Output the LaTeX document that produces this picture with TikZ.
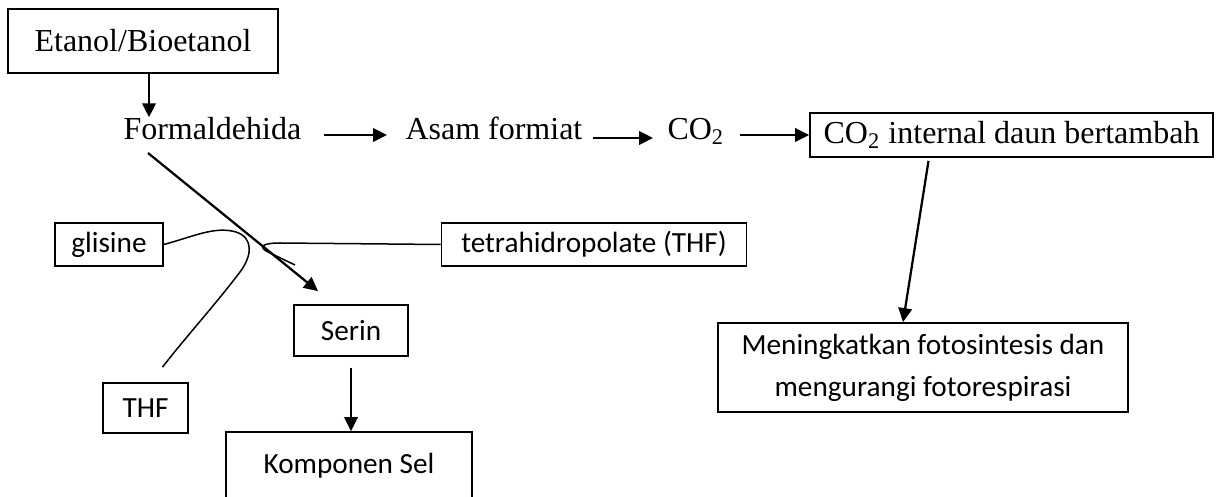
\documentclass[tikz,border=0pt]{standalone}
\usepackage{fontspec}
\setmainfont{Liberation Serif}
\setsansfont{Carlito}
\usetikzlibrary{arrows.meta}

\tikzset{
  serif/.style={font=\fontsize{12.8}{15}\selectfont},
  sans/.style={font=\sffamily\fontsize{11.7}{16.8}\selectfont},
  kotak/.style={draw, line width=0.7pt, inner sep=0pt},
  teks/.style={inner sep=0pt, anchor=base west},
  panah/.style={-{Triangle[length=5.6pt,width=5.4pt]}, line width=0.9pt},
}

\begin{document}
\begin{tikzpicture}[x=0.4pt, y=-0.4pt]
\useasboundingbox (0,0) rectangle (1217,497);

% jalur atas
\node[kotak, serif, minimum width=108pt, minimum height=25.6pt] (etanol) at (143,41) {Etanol/Bioetanol};
\node[teks, serif] (formal) at (123,140) {Formaldehida};
\node[teks, serif] (asam) at (405,140) {Asam formiat};
\node[teks, serif] (co2) at (667,140) {CO\textsubscript{2}};
\node[kotak, serif, minimum width=161.2pt, minimum height=17.6pt] (internal) at (1011.5,135) {CO\textsubscript{2} internal daun bertambah};
\node[kotak, sans, minimum width=164pt, minimum height=35.6pt, align=center] (mening) at (923,367.5) {Meningkatkan fotosintesis dan\\mengurangi fotorespirasi};

% jalur serin
\node[kotak, sans, minimum width=43.2pt, minimum height=17.2pt] (glisine) at (109,244.5) {glisine};
\node[kotak, sans, minimum width=122pt, minimum height=17.2pt] (tetra) at (594,244.5) {tetrahidropolate (THF)};
\node[kotak, sans, minimum width=34pt, minimum height=20pt] (thf) at (145.5,408) {THF};
\node[kotak, sans, minimum width=45.6pt, minimum height=20.4pt] (serin) at (351,330.5) {Serin};
\node[kotak, sans, minimum width=98.4pt, minimum height=27.2pt] (komponen) at (349,466) {Komponen Sel};

\draw[panah] ([xshift=2.4pt]etanol.south) -- ([xshift=2.4pt]etanol.south |- formal.north);
\draw[panah] ([shift={(22,-5)}]formal.base east) -- ([shift={(-18,-5)}]asam.base west);
\draw[panah] ([shift={(10,-2)}]asam.base east) -- ([shift={(-14,-2)}]co2.base west);
\draw[panah] ([shift={(15,-5)}]co2.base east) -- (internal.west);
\draw[panah] ([shift={(-83,3)}]internal.south) -- ([xshift=-8pt]mening.north);

\draw[panah] ([shift={(25,13)}]formal.base west) -- ([shift={(-33,-13)}]serin.north);
\draw[panah] ([yshift=-4.4pt]serin.south) -- (serin.south |- komponen.north);

% kurva glisine dan THF
\draw[line width=0.6pt] (glisine.east) .. controls (195,236) and (215,226) .. (236,232)
  .. controls (254,238) and (252,256) .. (240,272)
  .. controls (215,305) and (185,338) .. ([shift={(17,-15)}]thf.north);
\draw[line width=0.6pt] (tetra.west) -- (280,243) .. controls (262,243) and (258,247) .. (268,252) -- (295,265);
\end{tikzpicture}
\end{document}
